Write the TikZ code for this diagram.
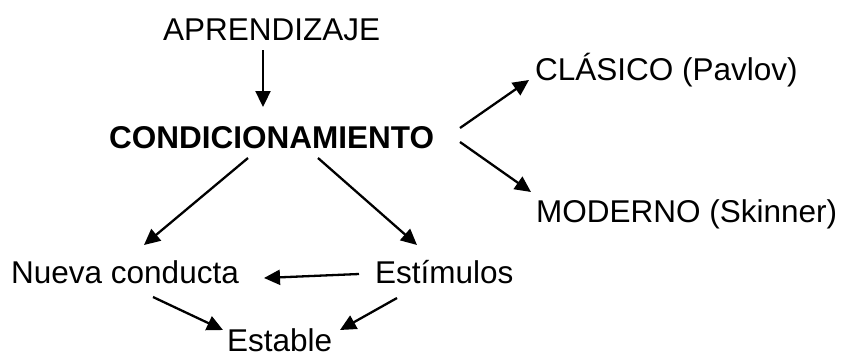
\documentclass[tikz,border=0pt]{standalone}
\usepackage{fontspec}
\setmainfont{Liberation Sans}
\usetikzlibrary{arrows.meta}
\begin{document}
\begin{tikzpicture}[x=1pt,y=1pt,
  texto/.style={inner sep=0pt,anchor=base west,font=\fontsize{31.5}{38}\selectfont},
  flecha/.style={line width=2.3pt,-{Triangle[length=16pt,width=15pt]}}]
  \useasboundingbox (0,0) rectangle (845,-354);
  \node[texto] (apr) at (163,-40) {APRENDIZAJE};
  \node[texto,font=\fontsize{31.5}{38}\selectfont\bfseries] (cond) at (109,-148) {CONDICIONAMIENTO};
  \node[texto] (clas) at (535,-80) {CLÁSICO (Pavlov)};
  \node[texto] (mod) at (536,-222) {MODERNO (Skinner)};
  \node[texto] (nueva) at (11,-283) {Nueva conducta};
  \node[texto] (estim) at (375,-283) {Estímulos};
  \node[texto] (estable) at (227,-351) {Estable};
  \draw[flecha] ([shift={(100,-10)}]apr.base west) -- ([shift={(154,41)}]cond.base west);
  \draw[flecha] ([shift={(351,20)}]cond.base west) -- ([shift={(-6,0)}]clas.base west);
  \draw[flecha] ([shift={(351,6)}]cond.base west) -- ([shift={(-5,30)}]mod.base west);
  \draw[flecha] ([shift={(139,-10)}]cond.base west) -- ([shift={(133,38)}]nueva.base west);
  \draw[flecha] ([shift={(209,-10)}]cond.base west) -- ([shift={(42,38)}]estim.base west);
  \draw[flecha] ([shift={(-16,9)}]estim.base west) -- ([shift={(253,5)}]nueva.base west);
  \draw[flecha] ([shift={(142,-14)}]nueva.base west) -- ([shift={(-4,21)}]estable.base west);
  \draw[flecha] ([shift={(22,-15)}]estim.base west) -- ([shift={(113,21)}]estable.base west);
\end{tikzpicture}
\end{document}
